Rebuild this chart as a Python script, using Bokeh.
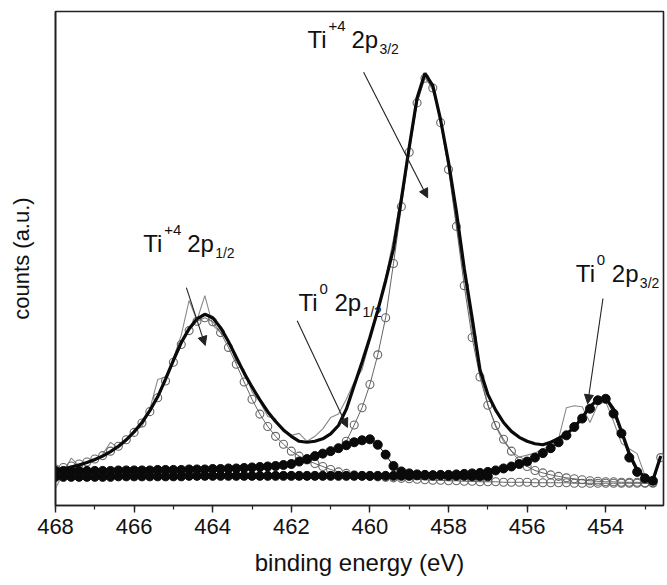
from bokeh.plotting import figure
from bokeh.models import Range1d, Label, Arrow, NormalHead, SingleIntervalTicker, FixedTicker
from bokeh.embed import file_html
from bokeh.resources import INLINE

# ---------------- data ----------------
energy = [468.0, 467.8, 467.6, 467.4, 467.2, 467.0, 466.8, 466.6, 466.4, 466.2,
          466.0, 465.8, 465.6, 465.4, 465.2, 465.0, 464.8, 464.6, 464.4, 464.2,
          464.0, 463.8, 463.6, 463.4, 463.2, 463.0, 462.8, 462.6, 462.4, 462.2,
          462.0, 461.8, 461.6, 461.4, 461.2, 461.0, 460.8, 460.6, 460.4, 460.2,
          460.0, 459.8, 459.6, 459.4, 459.2, 459.0, 458.8, 458.6, 458.4, 458.2,
          458.0, 457.8, 457.6, 457.4, 457.2, 457.0, 456.8, 456.6, 456.4, 456.2,
          456.0, 455.8, 455.6, 455.4, 455.2, 455.0, 454.8, 454.6, 454.4, 454.2,
          454.0, 453.8, 453.6, 453.4, 453.2, 453.0, 452.8, 452.6]

raw_counts = [3.5, 6.5, 9.6, 8.0, 8.6, 9.0, 10.4, 12.8, 11.6, 13.0,
              15.2, 16.0, 19.5, 25.5, 26.0, 29.8, 34.5, 41.5, 37.5, 42.5,
              36.5, 35.0, 33.5, 29.0, 27.5, 23.0, 21.0, 18.0, 17.5, 15.0,
              14.2, 14.6, 13.0, 14.0, 15.5, 17.8, 18.5, 21.5, 25.0, 27.5,
              33.5, 40.0, 46.0, 54.0, 63.0, 72.0, 81.5, 87.0, 84.0, 78.5,
              69.0, 57.0, 46.5, 35.5, 27.0, 20.5, 16.0, 13.0, 11.0, 9.8,
              10.2, 10.6, 11.5, 12.0, 13.5, 19.8, 20.2, 20.0, 16.8, 20.5,
              21.0, 17.0, 12.6, 11.5, 10.5, 6.0, 5.0, 10.1]

envelope_fit = [7.1, 7.4, 7.8, 8.2, 8.7, 9.3, 10.0, 10.9, 12.0, 13.3,
                14.9, 16.8, 19.2, 22.0, 25.6, 29.4, 33.0, 35.8, 37.8, 38.7,
                38.0, 36.0, 33.2, 30.0, 26.8, 24.0, 21.4, 19.0, 17.0, 15.3,
                14.0, 13.0, 12.8, 13.0, 13.5, 14.5, 16.2, 19.5, 24.3, 29.0,
                34.0, 39.5, 45.5, 52.0, 62.0, 72.5, 82.5, 87.5, 85.0, 78.0,
                69.5, 59.5, 48.0, 38.0, 27.5, 22.5, 19.3, 16.8, 15.0, 13.8,
                13.0, 12.5, 12.3, 12.8, 13.6, 14.5, 15.8, 17.8, 20.0, 21.5,
                21.8, 19.5, 15.0, 10.5, 7.2, 5.7, 5.1, 10.0]

ti4_2p12 = [7.4, 7.7, 8.0, 8.4, 8.8, 9.4, 10.1, 11.0, 12.0, 13.3,
            14.8, 16.7, 19.0, 21.8, 25.2, 29.0, 32.6, 35.4, 37.3, 38.0,
            37.2, 35.0, 32.0, 28.6, 25.0, 21.5, 18.5, 16.0, 14.0, 12.4,
            11.0, 10.0, 9.2, 8.5, 7.9, 7.3, 6.8, 6.5, 6.2, 6.0,
            5.9, 5.8, 5.7, 5.6, 5.5, 5.4, 5.3, 5.2, 5.1, 5.1,
            5.0, 5.0, 4.9, 4.9, 4.8, 4.8, 4.8, 4.7, 4.7, 4.7,
            4.7, 4.6, 4.6, 4.6, 4.6, 4.6, 4.5, 4.5, 4.5, 4.5,
            4.5, 4.5, 4.5, 4.5, 4.5, 4.5, 4.5, 9.7]

energy_ti4_2p32 = [460.6, 460.4, 460.2, 460.0, 459.8, 459.6, 459.4, 459.2, 459.0, 458.8,
                   458.6, 458.4, 458.2, 458.0, 457.8, 457.6, 457.4, 457.2, 457.0, 456.8,
                   456.6, 456.4, 456.2, 456.0, 455.8, 455.6, 455.4, 455.2, 455.0, 454.8,
                   454.6, 454.4, 454.2, 454.0, 453.8, 453.6, 453.4, 453.2, 453.0, 452.8]
ti4_2p32 = [13.0, 16.3, 19.8, 24.5, 30.5, 38.0, 49.0, 60.5, 71.5, 81.5,
            86.5, 84.5, 77.5, 68.0, 56.5, 44.5, 34.0, 26.0, 20.3, 16.2,
            13.4, 11.0, 9.0, 7.9, 7.1, 6.6, 6.2, 5.9, 5.6, 5.4,
            5.2, 5.0, 4.9, 4.8, 4.8, 4.7, 4.7, 4.7, 4.6, 4.6]

energy_ti0_2p12 = [468.0, 467.8, 467.6, 467.4, 467.2, 467.0, 466.8, 466.6, 466.4, 466.2,
                   466.0, 465.8, 465.6, 465.4, 465.2, 465.0, 464.8, 464.6, 464.4, 464.2,
                   464.0, 463.8, 463.6, 463.4, 463.2, 463.0, 462.8, 462.6, 462.4, 462.2,
                   462.0, 461.8, 461.6, 461.4, 461.2, 461.0, 460.8, 460.6, 460.4, 460.2,
                   460.0, 459.8, 459.6, 459.4, 459.2, 459.0, 458.8, 458.6, 458.4, 458.2,
                   458.0, 457.8, 457.6, 457.4, 457.2, 457.0]
ti0_2p12 = [7.0, 7.0, 7.0, 7.0, 7.0, 7.0, 7.0, 7.0, 7.1, 7.1,
            7.1, 7.1, 7.1, 7.2, 7.2, 7.2, 7.2, 7.3, 7.3, 7.3,
            7.4, 7.4, 7.5, 7.5, 7.6, 7.7, 7.8, 7.9, 8.0, 8.2,
            8.4, 8.9, 9.4, 10.0, 10.5, 11.0, 11.6, 12.2, 12.8, 13.2,
            13.4, 12.3, 10.3, 8.0, 6.9, 6.5, 6.3, 6.2, 6.1, 6.1,
            6.0, 6.0, 6.0, 5.9, 5.9, 5.9]

energy_ti0_2p32 = energy[:77]
ti0_2p32 = [5.8, 5.8, 5.8, 5.8, 5.8, 5.8, 5.8, 5.8, 5.9, 5.9,
            5.9, 5.9, 5.9, 5.9, 5.9, 5.9, 5.9, 6.0, 6.0, 6.0,
            6.0, 6.0, 6.0, 6.0, 6.0, 6.0, 6.0, 6.0, 6.0, 6.0,
            6.0, 6.0, 6.0, 6.0, 6.0, 6.0, 6.0, 6.0, 6.0, 6.0,
            6.0, 6.0, 6.0, 6.0, 6.0, 6.0, 6.1, 6.1, 6.1, 6.2,
            6.2, 6.3, 6.4, 6.5, 6.6, 6.8, 7.1, 7.5, 7.9, 8.4,
            8.9, 9.7, 10.6, 11.6, 12.8, 14.2, 15.9, 17.6, 19.6, 21.3,
            21.6, 18.6, 14.6, 9.7, 6.8, 5.5, 5.0]

# annotation texts: (main, superscript, main2, subscript), anchor (eV, counts), arrow (x0, y0, x1, y1)
annotations = [
    (("Ti", "+4", "2p", "1/2"), (465.77, 53.0), (464.67, 44.1, 464.19, 32.4)),
    (("Ti", "0", "2p", "1/2"), (461.82, 41.0), (461.85, 37.4, 460.57, 15.8)),
    (("Ti", "+4", "2p", "3/2"), (461.59, 94.3), (460.16, 87.7, 458.53, 62.3)),
    (("Ti", "0", "2p", "3/2"), (454.76, 46.9), (454.07, 41.9, 454.46, 20.6)),
]

FONT = "Liberation Sans"

p = figure(width=667, height=585, output_backend="svg", toolbar_location=None,
           x_range=Range1d(468, 452.53), y_range=Range1d(0, 100),
           min_border_left=55, min_border_right=4, min_border_top=11, min_border_bottom=80)
p.background_fill_color = "white"
p.border_fill_color = "white"
p.grid.visible = False
p.outline_line_color = "#222222"
p.outline_line_width = 1.6

xa = p.xaxis[0]
xa.ticker = SingleIntervalTicker(interval=2, num_minor_ticks=2)
xa.axis_line_color = "#222222"
xa.axis_line_width = 1.6
xa.major_tick_line_color = "#222222"
xa.major_tick_line_width = 1.4
xa.major_tick_in = 0
xa.major_tick_out = 7
xa.minor_tick_line_color = "#222222"
xa.minor_tick_line_width = 1.2
xa.minor_tick_in = 0
xa.minor_tick_out = 4
xa.major_label_standoff = 6
xa.major_label_text_font = FONT
xa.major_label_text_font_size = "22px"
xa.major_label_text_color = "#111111"
xa.axis_label = "binding energy (eV)"
xa.axis_label_text_font = FONT
xa.axis_label_text_font_size = "24px"
xa.axis_label_text_font_style = "normal"
xa.axis_label_text_color = "#111111"
xa.axis_label_standoff = 12

ya = p.yaxis[0]
ya.ticker = FixedTicker(ticks=[])
ya.axis_line_color = "#222222"
ya.axis_line_width = 1.6
ya.major_tick_line_color = None
ya.minor_tick_line_color = None
ya.major_label_text_font_size = "0px"
ya.axis_label = "counts (a.u.)"
ya.axis_label_text_font = FONT
ya.axis_label_text_font_size = "22px"
ya.axis_label_text_font_style = "normal"
ya.axis_label_text_color = "#111111"
ya.axis_label_standoff = 22

# raw spectrum
p.line(energy, raw_counts, line_color="#8a8a8a", line_width=1.1)
# Ti4+ components (open circles)
p.line(energy, ti4_2p12, line_color="#555555", line_width=0.9)
p.scatter(energy, ti4_2p12, marker="circle", size=8, fill_color=None,
          line_color="#666666", line_width=1.1)
p.line(energy_ti4_2p32, ti4_2p32, line_color="#555555", line_width=0.9)
p.scatter(energy_ti4_2p32, ti4_2p32, marker="circle", size=8, fill_color=None,
          line_color="#666666", line_width=1.1)
# envelope fit
p.line(energy, envelope_fit, line_color="#0a0a0a", line_width=3.2)
# Ti0 components (filled circles)
p.line(energy_ti0_2p12, ti0_2p12, line_color="#111111", line_width=1)
p.scatter(energy_ti0_2p12, ti0_2p12, marker="circle", size=9, fill_color="#0a0a0a",
          line_color="#0a0a0a")
p.line(energy_ti0_2p32, ti0_2p32, line_color="#111111", line_width=1)
p.scatter(energy_ti0_2p32, ti0_2p32, marker="circle", size=9, fill_color="#0a0a0a",
          line_color="#0a0a0a")

# annotations with super/subscripts and arrows
for (main, sup, main2, sub), (ax, ay), (x0, y0, x1, y1) in annotations:
    gap = 44 if len(sup) > 1 else 36
    p.add_layout(Label(x=ax, y=ay, text=main, text_font=FONT, text_font_size="24px",
                       text_color="#111111", text_baseline="alphabetic"))
    p.add_layout(Label(x=ax, y=ay, x_offset=21, y_offset=14, text=sup, text_font=FONT,
                       text_font_size="15px", text_color="#111111", text_baseline="alphabetic"))
    p.add_layout(Label(x=ax, y=ay, x_offset=gap, text=main2, text_font=FONT,
                       text_font_size="24px", text_color="#111111", text_baseline="alphabetic"))
    p.add_layout(Label(x=ax, y=ay, x_offset=gap + 28, y_offset=-9, text=sub, text_font=FONT,
                       text_font_size="14px", text_color="#111111", text_baseline="alphabetic"))
    p.add_layout(Arrow(x_start=x0, y_start=y0, x_end=x1, y_end=y1,
                       line_color="#222222", line_width=1.1,
                       end=NormalHead(size=9, fill_color="#222222", line_color="#222222")))

open("out.html", "w").write(file_html(p, INLINE))
